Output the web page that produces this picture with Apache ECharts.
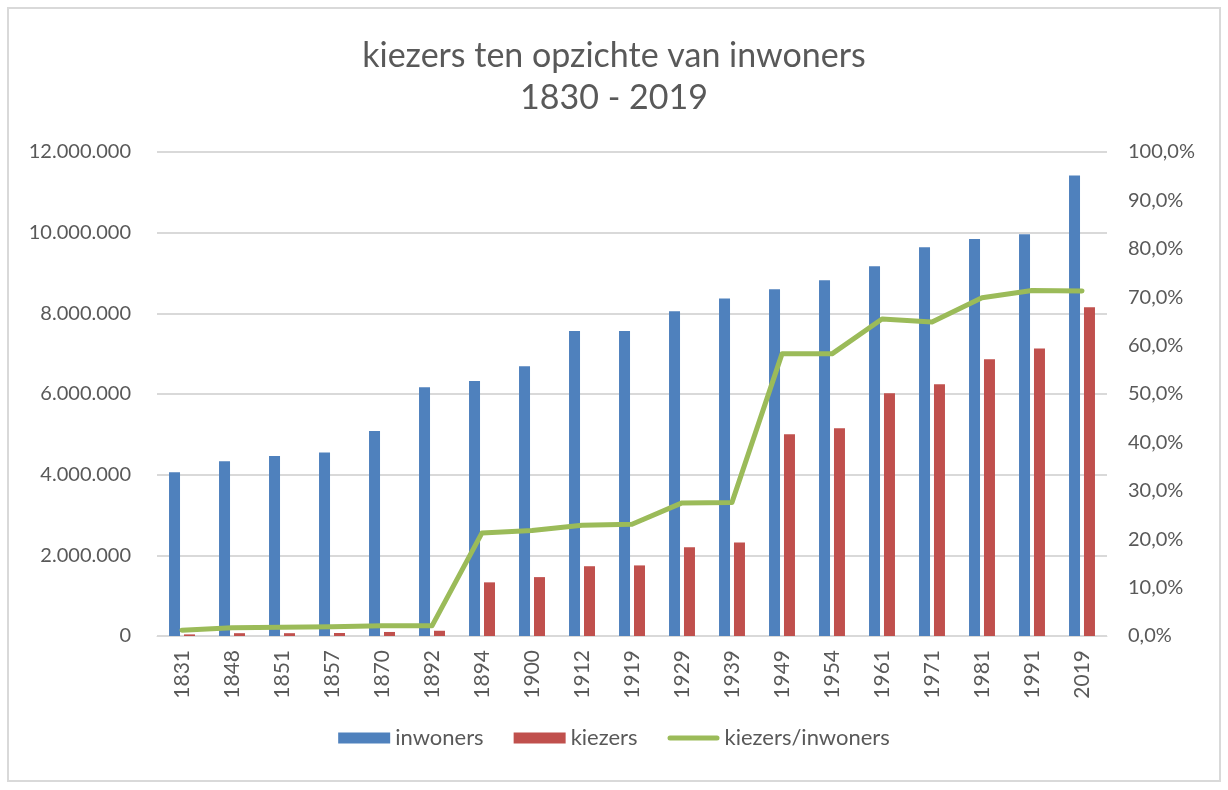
<!DOCTYPE html>
<html>
<head>
<meta charset="utf-8">
<script src="https://cdn.jsdelivr.net/npm/echarts@6/dist/echarts.min.js"></script>
<style>
html,body{margin:0;padding:0;background:#fff;}
#frame{position:absolute;left:7px;top:7px;width:1210px;height:771px;border:2px solid #d9d9d9;box-sizing:content-box;}
#chart{position:absolute;left:0;top:0;width:1228px;height:790px;}
</style>
</head>
<body>
<div id="frame"></div>
<div id="chart"></div>
<script>
const years = ['1831','1848','1851','1857','1870','1892','1894','1900','1912','1919','1929','1939','1949','1954','1961','1971','1981','1991','2019'];
const inwoners = [4060000,4330000,4460000,4550000,5080000,6170000,6320000,6690000,7560000,7560000,8050000,8370000,8600000,8820000,9170000,9640000,9840000,9960000,11420000];
const kiezers = [40000,70000,70000,75000,100000,130000,1330000,1460000,1730000,1750000,2200000,2320000,5000000,5150000,6020000,6240000,6860000,7130000,8150000];
const ratio = [0.012,0.017,0.018,0.019,0.021,0.021,0.213,0.218,0.229,0.231,0.275,0.276,0.583,0.583,0.655,0.649,0.699,0.714,0.713];
const leftTicks = ['0','2.000.000','4.000.000','6.000.000','8.000.000','10.000.000','12.000.000'];

const FONT = 'Lato';
const TXT = '#595959';
const chart = echarts.init(document.getElementById('chart'));
chart.setOption({
  animation: false,
  backgroundColor: 'transparent',
  title: {
    text: 'kiezers ten opzichte van inwoners\n1830 - 2019',
    left: 'center',
    top: 30,
    textStyle: {fontFamily: FONT, fontSize: 34, fontWeight: 'normal', color: TXT, lineHeight: 42}
  },
  legend: {
    bottom: 36,
    left: 'center',
    itemWidth: 52,
    itemHeight: 11,
    itemGap: 30,
    textStyle: {fontFamily: FONT, fontSize: 22, color: TXT, padding: [0,0,0,0]},
    data: [
      {name: 'inwoners', icon: 'rect'},
      {name: 'kiezers', icon: 'rect'},
      {name: 'kiezers/inwoners', icon: 'path://M2.5,0 h47 a2.5,2.5 0 0 1 0,5 h-47 a2.5,2.5 0 0 1 0,-5 z'}
    ]
  },
  grid: {left: 157, right: 121, top: 152, bottom: 154, containLabel: false},
  xAxis: {
    type: 'category',
    data: years,
    axisLine: {lineStyle: {color: '#d9d9d9', width: 1}},
    axisTick: {show: false},
    axisLabel: {rotate: 90, color: TXT, fontFamily: FONT, fontSize: 21, margin: 14}
  },
  yAxis: [
    {
      type: 'value', min: 0, max: 12000000, interval: 2000000,
      axisLine: {show: false}, axisTick: {show: false},
      splitLine: {lineStyle: {color: '#d9d9d9', width: 2}},
      axisLabel: {color: TXT, fontFamily: FONT, fontSize: 20, margin: 26,
        formatter: function(v){ return leftTicks[Math.round(v/2000000)]; }}
    },
    {
      type: 'value', min: 0, max: 1, interval: 0.1,
      axisLine: {show: false}, axisTick: {show: false},
      splitLine: {show: false},
      axisLabel: {color: TXT, fontFamily: FONT, fontSize: 20, margin: 21,
        formatter: function(v){ return (v*100).toFixed(1).replace('.', ',') + '%'; }}
    }
  ],
  series: [
    {name: 'inwoners', type: 'bar', data: inwoners, barWidth: 11, barGap: '36%', itemStyle: {color: '#4f81bd'}},
    {name: 'kiezers', type: 'bar', data: kiezers, barWidth: 11, barGap: '36%', itemStyle: {color: '#c0504d'}},
    {name: 'kiezers/inwoners', type: 'line', yAxisIndex: 1, data: ratio, symbol: 'none', z: 5,
      lineStyle: {color: '#9bbb59', width: 5, cap: 'round', join: 'round'}, itemStyle: {color: '#9bbb59'}}
  ]
});
</script>
</body>
</html>
